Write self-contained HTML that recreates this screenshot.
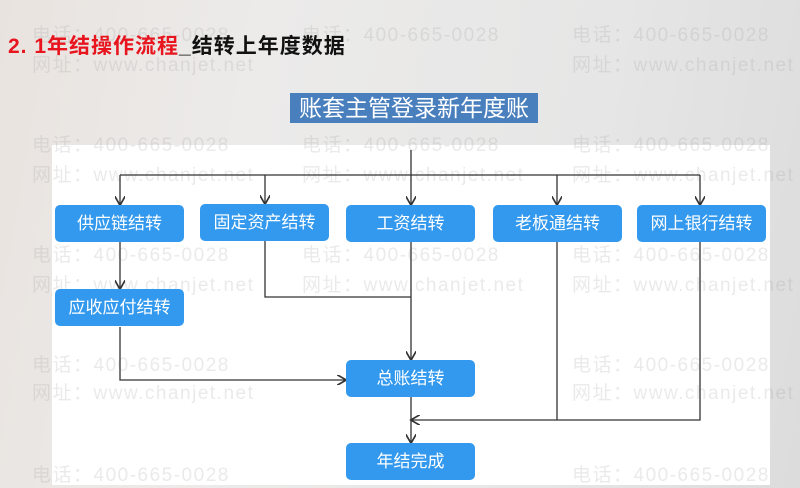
<!DOCTYPE html>
<html><head><meta charset="utf-8"><style>
body{margin:0;width:800px;height:488px;overflow:hidden;position:relative;font-family:"Liberation Sans","Noto Sans CJK SC",sans-serif;background:linear-gradient(100deg,#e9e3df 0%,#ecebea 30%,#e6e6e6 70%,#dcdcdc 100%);}
.panel{position:absolute;left:52px;top:145px;width:718px;height:340px;background:#fff;}
.node{position:absolute;width:129px;height:37px;background:#3399ee;border-radius:5px;color:#fff;font-size:17px;line-height:37px;text-align:center;}
.wm{position:absolute;color:rgba(150,150,150,.2);font-size:19px;letter-spacing:1.5px;white-space:nowrap;}
</style></head><body>
<div class="panel"></div>
<div class="wm" style="left:32px;top:20px">电话：400-665-0028</div>
<div class="wm" style="left:32px;top:50px">网址：www.chanjet.net</div>
<div class="wm" style="left:302px;top:20px">电话：400-665-0028</div>
<div class="wm" style="left:572px;top:20px">电话：400-665-0028</div>
<div class="wm" style="left:572px;top:50px">网址：www.chanjet.net</div>
<div class="wm" style="left:32px;top:130px">电话：400-665-0028</div>
<div class="wm" style="left:32px;top:160px">网址：www.chanjet.net</div>
<div class="wm" style="left:302px;top:130px">电话：400-665-0028</div>
<div class="wm" style="left:302px;top:160px">网址：www.chanjet.net</div>
<div class="wm" style="left:572px;top:130px">电话：400-665-0028</div>
<div class="wm" style="left:572px;top:160px">网址：www.chanjet.net</div>
<div class="wm" style="left:32px;top:240px">电话：400-665-0028</div>
<div class="wm" style="left:32px;top:270px">网址：www.chanjet.net</div>
<div class="wm" style="left:302px;top:240px">电话：400-665-0028</div>
<div class="wm" style="left:302px;top:270px">网址：www.chanjet.net</div>
<div class="wm" style="left:572px;top:240px">电话：400-665-0028</div>
<div class="wm" style="left:572px;top:270px">网址：www.chanjet.net</div>
<div class="wm" style="left:32px;top:350px">电话：400-665-0028</div>
<div class="wm" style="left:32px;top:378px">网址：www.chanjet.net</div>
<div class="wm" style="left:572px;top:350px">电话：400-665-0028</div>
<div class="wm" style="left:572px;top:378px">网址：www.chanjet.net</div>
<div class="wm" style="left:32px;top:460px">电话：400-665-0028</div>
<div class="wm" style="left:572px;top:460px">电话：400-665-0028</div>
<div style="position:absolute;left:8px;top:30px;font-size:21px;font-weight:bold;letter-spacing:1px;white-space:nowrap;"><span style="color:#e8141e">2. 1年结操作流程</span><span style="color:#111">_结转上年度数据</span></div>
<div style="position:absolute;left:290px;top:93px;width:248px;height:30px;background:#4a7fbe;color:#fff;font-size:23px;line-height:30px;text-align:center;">账套主管登录新年度账</div>
<svg style="position:absolute;left:0;top:0" width="800" height="488">
<defs><marker id="a" markerWidth="8" markerHeight="8" refX="6" refY="4" orient="auto"><path d="M0,0 L7,4 L0,8" fill="none" stroke="#333" stroke-width="1.3"/></marker></defs>
<g stroke="#333" stroke-width="1.3" fill="none">
<path d="M411 150 V204" marker-end="url(#a)"/>
<path d="M120 175 H700"/>
<path d="M120 175 V204" marker-end="url(#a)"/>
<path d="M265 175 V203" marker-end="url(#a)"/>
<path d="M557 175 V204" marker-end="url(#a)"/>
<path d="M700 175 V204" marker-end="url(#a)"/>
<path d="M120 242 V288" marker-end="url(#a)"/>
<path d="M265 241 V297 H411"/>
<path d="M411 242 V359" marker-end="url(#a)"/>
<path d="M120 327 V380 H345" marker-end="url(#a)"/>
<path d="M557 242 V420"/>
<path d="M700 242 V420 H412" marker-end="url(#a)"/>
<path d="M411 397 V442" marker-end="url(#a)"/>
</g></svg>
<div class="node" style="left:55px;top:205px">供应链结转</div>
<div class="node" style="left:200px;top:204px">固定资产结转</div>
<div class="node" style="left:346px;top:205px">工资结转</div>
<div class="node" style="left:493px;top:205px">老板通结转</div>
<div class="node" style="left:637px;top:205px">网上银行结转</div>
<div class="node" style="left:55px;top:289px">应收应付结转</div>
<div class="node" style="left:346px;top:360px">总账结转</div>
<div class="node" style="left:346px;top:443px">年结完成</div>
</body></html>
